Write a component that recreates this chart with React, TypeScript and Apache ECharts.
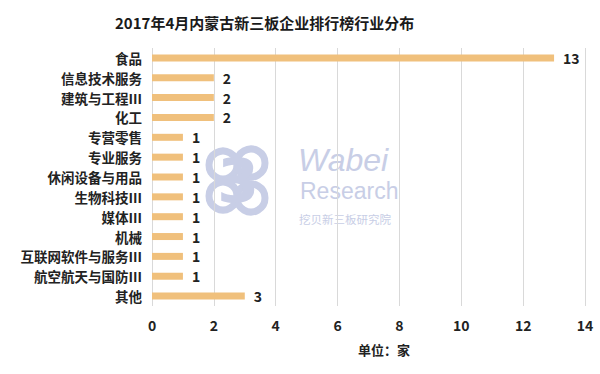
import React, { useEffect, useRef } from "react";
import * as echarts from "echarts";

const categories = [
  "食品",
  "信息技术服务",
  "建筑与工程Ⅲ",
  "化工",
  "专营零售",
  "专业服务",
  "休闲设备与用品",
  "生物科技Ⅲ",
  "媒体Ⅲ",
  "机械",
  "互联网软件与服务Ⅲ",
  "航空航天与国防Ⅲ",
  "其他",
];
const values = [13, 2, 2, 2, 1, 1, 1, 1, 1, 1, 1, 1, 3];
const titleText = "2017年4月内蒙古新三板企业排行榜行业分布";
const unitText = "单位：家";

const FONT = "'Noto Sans CJK SC', 'Noto Sans', sans-serif";

export default function App() {
  const ref = useRef<HTMLDivElement>(null);
  useEffect(() => {
    document.body.style.margin = "0";
    if (!ref.current) return;
    const chart = echarts.init(ref.current, undefined, { renderer: "svg" });
    const wm = "#c8cee6";
    chart.setOption({
      animation: false,
      backgroundColor: "#ffffff",
      title: {
        text: titleText,
        left: 110,
        top: 10,
        textStyle: { fontFamily: FONT, fontSize: 15, fontWeight: "bold", color: "#1a1a1a" },
      },
      grid: { left: 152, right: 15, top: 48, bottom: 68 },
      xAxis: {
        type: "value",
        min: 0,
        max: 14,
        interval: 2,
        axisLine: { show: false },
        axisTick: { show: false },
        axisLabel: { fontFamily: FONT, fontSize: 14, fontWeight: "bold", color: "#222", margin: 12 },
        splitLine: { show: true, lineStyle: { color: "#d9d9d9", width: 1 } },
      },
      yAxis: {
        type: "category",
        data: categories,
        inverse: true,
        axisLine: { show: false },
        axisTick: { show: false },
        axisLabel: { fontFamily: FONT, fontSize: 13.5, fontWeight: "bold", color: "#222", margin: 10 },
      },
      graphic: [
        {
          type: "text",
          x: 384,
          y: 349,
          style: {
            text: unitText,
            fontFamily: FONT,
            fontSize: 13,
            fontWeight: "bold",
            fill: "#222",
            align: "center",
            verticalAlign: "middle",
          },
        },
        {
          type: "group",
          silent: true,
          children: [
            { type: "circle", shape: { cx: 223, cy: 165, r: 14 }, style: { fill: "none", stroke: wm, lineWidth: 7 } },
            { type: "circle", shape: { cx: 223, cy: 196, r: 14 }, style: { fill: "none", stroke: wm, lineWidth: 7 } },
            { type: "circle", shape: { cx: 251, cy: 163, r: 14 }, style: { fill: "none", stroke: wm, lineWidth: 7 } },
            { type: "circle", shape: { cx: 251, cy: 198, r: 14 }, style: { fill: "none", stroke: wm, lineWidth: 7 } },
            {
              type: "text",
              x: 238,
              y: 181,
              style: {
                text: "3",
                fontFamily: "'DejaVu Sans', sans-serif",
                fontSize: 60,
                fontWeight: "bold",
                fill: wm,
                align: "center",
                verticalAlign: "middle",
              },
            },
            {
              type: "text",
              x: 298,
              y: 160,
              style: {
                text: "Wabei",
                fontFamily: "'Liberation Sans', sans-serif",
                fontSize: 32,
                fontStyle: "italic",
                fill: wm,
                verticalAlign: "middle",
              },
            },
            {
              type: "text",
              x: 300,
              y: 191,
              style: {
                text: "Research",
                fontFamily: "'Liberation Sans', sans-serif",
                fontSize: 23,
                fill: wm,
                verticalAlign: "middle",
              },
            },
            {
              type: "text",
              x: 299,
              y: 219,
              style: {
                text: "挖贝新三板研究院",
                fontFamily: FONT,
                fontSize: 11.5,
                fill: wm,
                verticalAlign: "middle",
              },
            },
          ],
        },
      ],
      series: [
        {
          type: "bar",
          data: values,
          barWidth: 7,
          itemStyle: { color: "#f0c07c" },
          label: {
            show: true,
            position: "right",
            distance: 9,
            fontFamily: FONT,
            fontSize: 14,
            fontWeight: "bold",
            color: "#222",
          },
          z: 3,
        },
      ],
    });
    return () => chart.dispose();
  }, []);
  return <div ref={ref} style={{ width: 600, height: 374 }} />;
}
